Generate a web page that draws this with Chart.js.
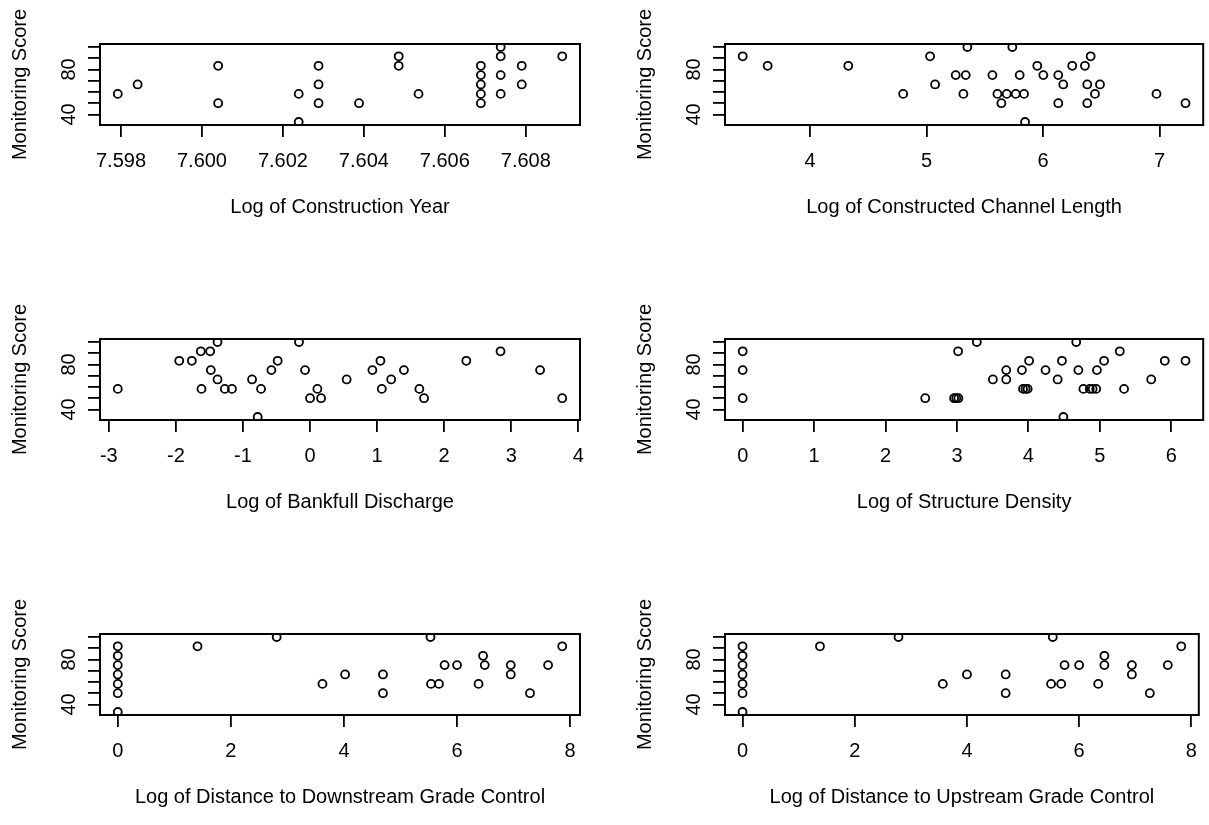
<!DOCTYPE html>
<html>
<head>
<meta charset="utf-8">
<script src="https://cdn.jsdelivr.net/npm/chart.js@4.4.1/dist/chart.umd.min.js"></script>
<style>
  body { margin: 0; background: #fff; width: 1209px; height: 825px; position: relative; overflow: hidden; }
  canvas { position: absolute; }
</style>
</head>
<body>
<canvas id="c1" width="604" height="230" style="left:0px;top:0px"></canvas>
<canvas id="c2" width="584" height="230" style="left:625px;top:0px"></canvas>
<canvas id="c3" width="604" height="230" style="left:0px;top:295px"></canvas>
<canvas id="c4" width="584" height="230" style="left:625px;top:295px"></canvas>
<canvas id="c5" width="604" height="230" style="left:0px;top:590px"></canvas>
<canvas id="c6" width="584" height="230" style="left:625px;top:590px"></canvas>
<script>
// monitoring score (shared y axis)
const yTicks = [40, 50, 60, 70, 80, 90, 100];
const yShown = [40, 80];
const yTitle = "Monitoring Score";

// log of construction year
const yearX = [7.59792, 7.59841, 7.6004, 7.6004, 7.60239, 7.60239, 7.60288, 7.60288, 7.60288, 7.60388,
  7.60486, 7.60486, 7.60535, 7.60689, 7.60689, 7.60689, 7.60689, 7.60689, 7.60738, 7.60738, 7.60738, 7.60738,
  7.6079, 7.6079, 7.6089];
const yearY = [58.3, 66.7, 83.3, 50, 58.3, 33.3, 83.3, 66.7, 50, 50,
  91.7, 83.3, 58.3, 83.3, 75, 66.7, 58.3, 50, 100, 91.7, 75, 58.3,
  83.3, 66.7, 91.7];
const yearTicks = ["7.598", "7.600", "7.602", "7.604", "7.606", "7.608"];

// log of constructed channel length
const lenX = [3.423, 3.637, 4.329, 4.8, 5.031, 5.074, 5.251, 5.317, 5.337, 5.351, 5.566, 5.609, 5.643,
  5.689, 5.737, 5.766, 5.8, 5.837, 5.846, 5.951, 6.003, 6.131, 6.131, 6.174, 6.251, 6.36, 6.38, 6.38,
  6.409, 6.446, 6.489, 6.974, 7.223];
const lenY = [91.7, 83.3, 83.3, 58.3, 91.7, 66.7, 75, 58.3, 75, 100, 75, 58.3, 50,
  58.3, 100, 58.3, 75, 58.3, 33.3, 83.3, 75, 50, 75, 66.7, 83.3, 83.3, 66.7, 50,
  91.7, 58.3, 66.7, 58.3, 50];
const lenTicks = ["4", "5", "6", "7"];

// log of bankfull discharge
const qX = [-2.866, -1.95, -1.762, -1.628, -1.618, -1.489, -1.479, -1.379, -1.379, -1.27, -1.164, -0.864,
  -0.78, -0.73, -0.576, -0.482, -0.164, -0.074, 0, 0.11, 0.165, 0.546, 0.93, 1.05, 1.07, 1.21, 1.4,
  1.63, 1.7, 2.33, 2.84, 3.43, 3.76];
const qY = [58.3, 83.3, 83.3, 91.7, 58.3, 91.7, 75, 100, 66.7, 58.3, 58.3, 66.7,
  33.3, 58.3, 75, 83.3, 100, 75, 50, 58.3, 50, 66.7, 75, 83.3, 58.3, 66.7, 75,
  58.3, 50, 83.3, 91.7, 75, 50];
const qTicks = ["-3", "-2", "-1", "0", "1", "2", "3", "4"];

// log of structure density
const densX = [0, 0, 0, 2.556, 2.96, 2.99, 3.02, 3.016, 3.278, 3.503, 3.69, 3.69, 3.91, 3.925, 3.96, 3.99,
  4.01, 4.24, 4.41, 4.47, 4.49, 4.67, 4.7, 4.77, 4.86, 4.9, 4.95, 4.96, 5.06, 5.28, 5.34, 5.72, 5.91, 6.2];
const densY = [91.7, 75, 50, 50, 50, 50, 50, 91.7, 100, 66.7, 75, 66.7, 75, 58.3, 58.3, 58.3,
  83.3, 75, 66.7, 83.3, 33.3, 100, 75, 58.3, 58.3, 58.3, 58.3, 75, 83.3, 91.7, 58.3, 66.7, 83.3, 83.3];
const densTicks = ["0", "1", "2", "3", "4", "5", "6"];

// log of distance to downstream grade control
const downX = [0, 0, 0, 0, 0, 0, 0, 1.41, 2.81, 3.62, 4.02, 4.69, 4.69, 5.53, 5.54, 5.68, 5.78, 6.0,
  6.38, 6.46, 6.49, 6.95, 6.95, 7.29, 7.61, 7.86];
const downY = [91.7, 83.3, 75, 66.7, 58.3, 50, 33.3, 91.7, 100, 58.3, 66.7, 66.7, 50, 100, 58.3, 58.3, 75, 75,
  58.3, 83.3, 75, 75, 66.7, 50, 75, 91.7];
const downTicks = ["0", "2", "4", "6", "8"];

// log of distance to upstream grade control
const upX = [0, 0, 0, 0, 0, 0, 0, 1.38, 2.78, 3.57, 4.0, 4.69, 4.69, 5.53, 5.5, 5.68, 5.74, 6.0,
  6.34, 6.45, 6.45, 6.94, 6.94, 7.26, 7.58, 7.82];
const upY = [91.7, 83.3, 75, 66.7, 58.3, 50, 33.3, 91.7, 100, 58.3, 66.7, 66.7, 50, 100, 58.3, 58.3, 75, 75,
  58.3, 83.3, 75, 75, 66.7, 50, 75, 91.7];
const upTicks = ["0", "2", "4", "6", "8"];

Chart.defaults.font.family = "'Liberation Sans', Arial, sans-serif";
Chart.defaults.font.size = 20;
Chart.defaults.color = "#000";

// R style frame round the plot region
const boxPlugin = {
  id: "box",
  afterDatasetsDraw(chart) {
    const a = chart.chartArea, ctx = chart.ctx;
    ctx.save();
    ctx.strokeStyle = "#000";
    ctx.lineWidth = 2;
    ctx.strokeRect(a.left, a.top, a.right - a.left, a.bottom - a.top);
    ctx.restore();
  }
};

// R pads the data range by 4% on each side
function padRange(vals) {
  const lo = Math.min(...vals), hi = Math.max(...vals);
  const p = (hi - lo) * 0.04;
  return [lo - p, hi + p];
}

function panel(id, xs, ys, tickLabels, title, rightPad) {
  const [xmin, xmax] = padRange(xs);
  const [ymin, ymax] = padRange(ys);
  new Chart(document.getElementById(id), {
    type: "scatter",
    data: {
      datasets: [{
        data: xs.map((x, i) => ({ x: x, y: ys[i] })),
        pointStyle: "circle",
        pointRadius: 4,
        pointBorderWidth: 1.8,
        borderColor: "#000",
        backgroundColor: "rgba(0,0,0,0)"
      }]
    },
    options: {
      responsive: false,
      animation: false,
      devicePixelRatio: 1,
      layout: { padding: { top: 44, left: 0, right: rightPad, bottom: 0 } },
      plugins: { legend: { display: false }, tooltip: { enabled: false } },
      scales: {
        x: {
          type: "linear",
          min: xmin, max: xmax,
          afterBuildTicks: s => { s.ticks = tickLabels.map(t => ({ value: parseFloat(t) })); },
          afterFit: s => { s.height = 105; },
          ticks: {
            autoSkip: false, maxRotation: 0, padding: 12,
            callback: (v, i) => tickLabels[i]
          },
          grid: { drawOnChartArea: false, drawTicks: true, tickLength: 12, color: "#000", lineWidth: 1.8 },
          border: { display: false },
          title: { display: true, text: title, padding: { top: 0, bottom: 11 } }
        },
        y: {
          type: "linear",
          min: ymin, max: ymax,
          afterBuildTicks: s => { s.ticks = yTicks.map(v => ({ value: v })); },
          afterFit: s => { s.width = 100; },
          ticks: {
            autoSkip: false, minRotation: 90, maxRotation: 90, crossAlign: "center", padding: 7,
            callback: v => yShown.includes(v) ? String(v) : ""
          },
          grid: { drawOnChartArea: false, drawTicks: true, tickLength: 12, color: "#000", lineWidth: 1.8 },
          border: { display: false },
          title: { display: true, text: yTitle, padding: { top: 8, bottom: 0 } }
        }
      }
    },
    plugins: [boxPlugin]
  });
}

panel("c1", yearX, yearY, yearTicks, "Log of Construction Year", 24);
panel("c2", lenX, lenY, lenTicks, "Log of Constructed Channel Length", 3);
panel("c3", qX, qY, qTicks, "Log of Bankfull Discharge", 24);
panel("c4", densX, densY, densTicks, "Log of Structure Density", 3);
panel("c5", downX, downY, downTicks, "Log of Distance to Downstream Grade Control", 24);
panel("c6", upX, upY, upTicks, "Log of Distance to Upstream Grade Control", 3);
</script>
</body>
</html>
